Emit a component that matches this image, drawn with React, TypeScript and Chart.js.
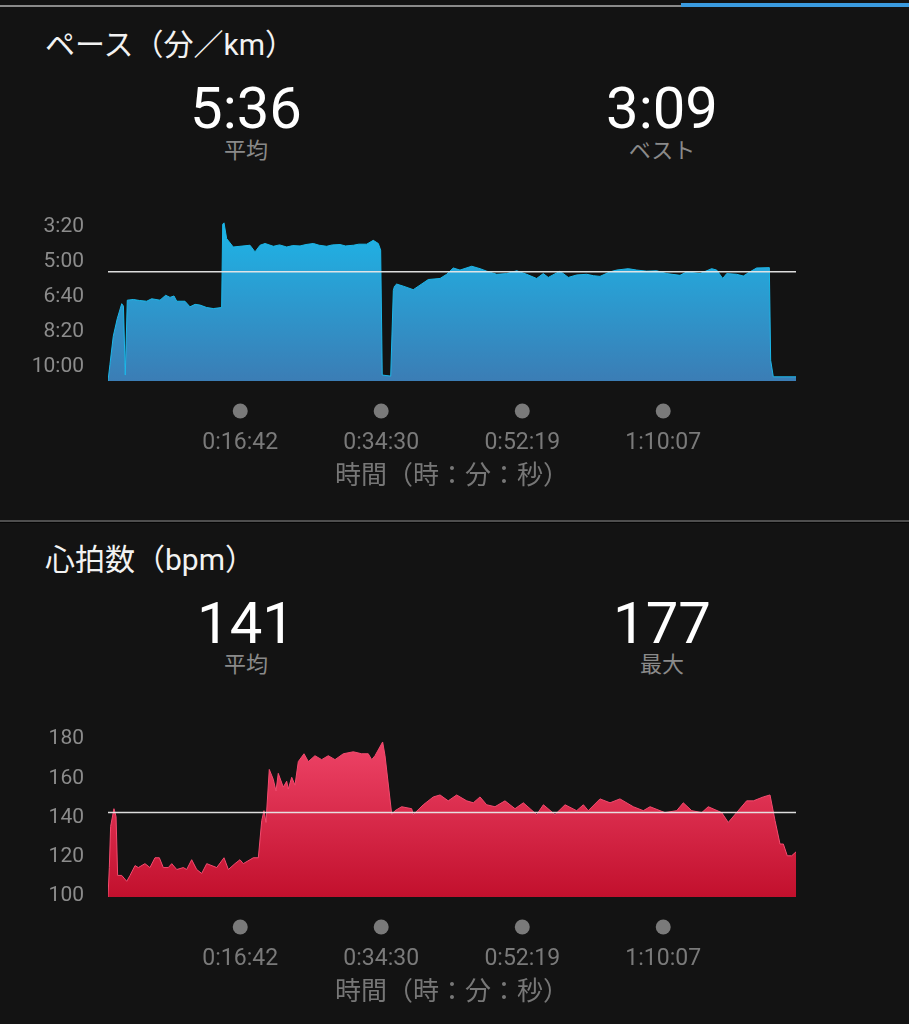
import React, { useEffect, useRef } from 'react';
import { Chart, registerables } from 'chart.js';

Chart.register(...registerables);

const FONT = "Roboto, 'Noto Sans CJK JP', sans-serif";

// ---- shared x axis (elapsed time, seconds) ----
const TIME_MAX = 5213;
const TIME_TICKS = [1002, 2070, 3139, 4207];

// ---- pace (seconds per km) ----
const PACE_TIME = [
  0, 15, 40, 70, 104, 117, 131, 146, 192, 240,
  293, 331, 394, 437, 470, 500, 521, 583, 621, 660,
  697, 748, 798, 861, 869, 879, 899, 949, 1000, 1076,
  1114, 1152, 1190, 1253, 1300, 1354, 1400, 1455, 1500, 1556,
  1600, 1657, 1700, 1758, 1800, 1859, 1900, 1960, 2010, 2048,
  2066, 2078, 2142, 2162, 2171, 2187, 2238, 2313, 2364, 2427,
  2516, 2566, 2616, 2667, 2756, 2819, 2869, 2945, 3021, 3097,
  3172, 3248, 3298, 3336, 3425, 3488, 3551, 3627, 3677, 3728,
  3804, 3854, 3942, 4006, 4082, 4157, 4233, 4334, 4385, 4486,
  4574, 4612, 4658, 4688, 4763, 4814, 4864, 4915, 5011, 5021,
  5041, 5213,
];
const PACE = [
  648, 600, 520, 470, 427, 434, 631, 417, 415, 418,
  420, 413, 417, 403, 409, 405, 420, 420, 436, 429,
  431, 438, 441, 438, 200, 196, 241, 265, 263, 260,
  279, 260, 255, 263, 259, 265, 261, 262, 258, 255,
  260, 263, 259, 258, 262, 260, 257, 257, 246, 255,
  274, 631, 634, 389, 377, 371, 377, 387, 374, 358,
  355, 343, 325, 331, 320, 327, 334, 343, 341, 333,
  343, 355, 341, 352, 334, 352, 345, 343, 347, 349,
  336, 331, 327, 331, 334, 333, 341, 346, 336, 341,
  327, 331, 355, 341, 343, 348, 336, 325, 324, 589,
  636, 636,
];
const PACE_TICKS = [200, 300, 400, 500, 600];
const PACE_MIN = 175;
const PACE_MAX = 648;
const PACE_AVG = 336;
const PACE_BEST = 189;

// ---- heart rate (bpm) ----
const HR_TIME = [
  0, 10, 20, 45, 61, 73, 104, 142, 167, 205,
  230, 280, 318, 356, 389, 419, 457, 483, 521, 571,
  596, 634, 672, 710, 748, 824, 879, 912, 962, 1000,
  1025, 1076, 1101, 1139, 1165, 1182, 1197, 1222, 1252, 1273,
  1290, 1328, 1354, 1366, 1392, 1417, 1442, 1485, 1518, 1568,
  1619, 1669, 1720, 1783, 1859, 1922, 1972, 1998, 2023, 2081,
  2099, 2150, 2175, 2225, 2301, 2313, 2389, 2465, 2516, 2578,
  2642, 2718, 2768, 2819, 2869, 2932, 3008, 3084, 3147, 3198,
  3248, 3299, 3387, 3463, 3551, 3602, 3639, 3728, 3804, 3879,
  3980, 4056, 4107, 4220, 4309, 4359, 4423, 4499, 4548, 4650,
  4700, 4763, 4839, 4890, 4965, 5016, 5054, 5092, 5117, 5147,
  5180, 5213,
];
const HR = [
  98, 113, 134, 143, 139, 109, 109, 106, 109, 114,
  113, 115, 113, 118, 118, 113, 113, 115, 112, 113,
  112, 117, 112, 110, 115, 113, 118, 112, 115, 117,
  115, 117, 118, 118, 137, 142, 136, 163, 158, 152,
  161, 154, 157, 153, 159, 155, 167, 171, 167, 170,
  168, 170, 168, 171, 172, 171, 171, 168, 170, 177,
  170, 140, 142, 144, 143, 140, 145, 149, 150, 147,
  150, 147, 146, 149, 145, 144, 147, 143, 146, 143,
  140, 145, 140, 145, 142, 145, 142, 148, 146, 148,
  144, 142, 144, 141, 142, 146, 142, 141, 144, 141,
  136, 141, 147, 147, 149, 150, 137, 125, 125, 119,
  119, 121,
];
const HR_TICKS = [100, 120, 140, 160, 180];
const HR_MIN = 98;
const HR_MAX_AXIS = 188.2;
const HR_AVG = 141;
const HR_PEAK = 177;

function fmtClock(v: number): string {
  const s = Math.round(v);
  const h = Math.floor(s / 3600);
  const m = Math.floor((s % 3600) / 60);
  const sec = s % 60;
  return `${h}:${String(m).padStart(2, '0')}:${String(sec).padStart(2, '0')}`;
}
function fmtPace(v: number): string {
  const s = Math.round(v);
  return `${Math.floor(s / 60)}:${String(s % 60).padStart(2, '0')}`;
}

type AreaProps = {
  times: number[];
  values: number[];
  yMin: number;
  yMax: number;
  yTicks: number[];
  reverse: boolean;
  avg: number;
  topColor: string;
  bottomColor: string;
  fmt: (v: number) => string;
  top: number;
  height: number;
  padTop: number;
};

function AreaChart(p: AreaProps) {
  const ref = useRef<HTMLCanvasElement | null>(null);
  useEffect(() => {
    if (!ref.current) return;
    const overlay = {
      id: 'overlay',
      afterDatasetsDraw(chart: any) {
        const { ctx, chartArea, scales } = chart;
        const y = scales.y.getPixelForValue(p.avg);
        ctx.save();
        ctx.strokeStyle = 'rgba(232,232,232,0.95)';
        ctx.lineWidth = 1.5;
        ctx.beginPath();
        ctx.moveTo(chartArea.left, y);
        ctx.lineTo(chartArea.right, y);
        ctx.stroke();
        ctx.fillStyle = '#7a7a7a';
        scales.x.ticks.forEach((t: any) => {
          const x = scales.x.getPixelForValue(t.value);
          ctx.beginPath();
          ctx.arc(x, chartArea.bottom + 30, 7.5, 0, Math.PI * 2);
          ctx.fill();
        });
        ctx.restore();
      },
    };
    const chart = new Chart(ref.current, {
      type: 'line',
      data: {
        datasets: [
          {
            data: p.times.map((t, i) => ({ x: t, y: p.values[i] })),
            fill: 'start',
            borderWidth: 1,
            borderColor: p.topColor,
            backgroundColor: (c: any) => {
              const { chart: ch } = c;
              const area = ch.chartArea;
              if (!area) return p.topColor;
              const g = ch.ctx.createLinearGradient(0, area.top, 0, area.bottom);
              g.addColorStop(0, p.topColor);
              g.addColorStop(1, p.bottomColor);
              return g;
            },
            pointRadius: 0,
            tension: 0,
          },
        ],
      },
      options: {
        responsive: false,
        animation: false,
        events: [],
        layout: { padding: { top: p.padTop, right: 113, left: 0, bottom: 0 } },
        plugins: { legend: { display: false }, tooltip: { enabled: false } },
        scales: {
          x: {
            type: 'linear',
            min: 0,
            max: TIME_MAX,
            grid: { display: false, drawTicks: false },
            border: { display: false },
            ticks: {
              padding: 48,
              color: '#7a7a7a',
              font: { size: 23, family: FONT },
              autoSkip: false,
              maxRotation: 0,
              callback: (v: any) => fmtClock(Number(v)),
            },
            afterBuildTicks: (s: any) => {
              s.ticks = TIME_TICKS.map((v) => ({ value: v }));
            },
            afterFit: (s: any) => {
              s.height = 119;
              s.paddingLeft = 0;
              s.paddingRight = 0;
            },
            title: {
              display: true,
              text: '時間（時：分：秒）',
              color: '#777777',
              font: { size: 26, family: FONT },
              padding: { top: 0, bottom: 7 },
            },
          },
          y: {
            type: 'linear',
            min: p.yMin,
            max: p.yMax,
            reverse: p.reverse,
            grid: { display: false, drawTicks: false },
            border: { display: false },
            ticks: {
              padding: 24,
              labelOffset: 3,
              color: '#8c8c8c',
              font: { size: 21, family: FONT },
              callback: (v: any) => p.fmt(Number(v)),
            },
            afterBuildTicks: (s: any) => {
              s.ticks = p.yTicks.map((v) => ({ value: v }));
            },
            afterFit: (s: any) => {
              s.width = 108;
              s.paddingTop = 0;
              s.paddingBottom = 0;
            },
          },
        },
      },
      plugins: [overlay],
    } as any);
    return () => chart.destroy();
  }, []);
  return (
    <canvas
      ref={ref}
      width={909}
      height={p.height}
      style={{ position: 'absolute', left: 0, top: p.top, width: 909, height: p.height }}
    />
  );
}

const abs = (x: number, y: number, extra: React.CSSProperties = {}): React.CSSProperties => ({
  position: 'absolute',
  left: x,
  top: y,
  lineHeight: 1,
  whiteSpace: 'nowrap',
  fontFamily: FONT,
  ...extra,
});

function Stat({ x, y, value, label, labelY }: { x: number; y: number; value: string; label: string; labelY: number }) {
  return (
    <>
      <div style={abs(x, y, { fontSize: 58, color: '#ffffff', transform: 'translate(-50%,-50%)' })}>{value}</div>
      <div style={abs(x, labelY, { fontSize: 22, color: '#8a8a8a', transform: 'translate(-50%,-50%)' })}>{label}</div>
    </>
  );
}

export default function App() {
  useEffect(() => {
    document.body.style.margin = '0';
    document.body.style.background = '#131313';
  }, []);
  return (
    <div
      style={{
        position: 'absolute',
        left: 0,
        top: 0,
        width: 909,
        height: 1024,
        background: '#131313',
        overflow: 'hidden',
      }}
    >
      <div style={{ position: 'absolute', left: 0, top: 5, width: 681, height: 2, background: '#8a8a8a' }} />
      <div style={{ position: 'absolute', left: 681, top: 3, width: 228, height: 4, background: '#3a9be0' }} />

      <div style={abs(45, 45, { fontSize: 30, color: '#f2f2f2', transform: 'translateY(-50%)' })}>ペース（分／km）</div>
      <Stat x={246} y={108} value={fmtPace(PACE_AVG)} label="平均" labelY={151} />
      <Stat x={662} y={108} value={fmtPace(PACE_BEST)} label="ベスト" labelY={151} />
      <AreaChart
        times={PACE_TIME}
        values={PACE}
        yMin={PACE_MIN}
        yMax={PACE_MAX}
        yTicks={PACE_TICKS}
        reverse={true}
        avg={PACE_AVG}
        topColor="#1cb8ea"
        bottomColor="#3b7db5"
        fmt={fmtPace}
        top={195}
        height={305}
        padTop={20.5}
      />

      <div style={{ position: 'absolute', left: 0, top: 520, width: 909, height: 2, background: '#4e4e4e' }} />
      <div style={{ position: 'absolute', left: 0, top: 522, width: 909, height: 1, background: '#050505' }} />

      <div style={abs(45, 560, { fontSize: 30, color: '#f2f2f2', transform: 'translateY(-50%)' })}>心拍数（bpm）</div>
      <Stat x={246} y={623} value={String(HR_AVG)} label="平均" labelY={665} />
      <Stat x={662} y={623} value={String(HR_PEAK)} label="最大" labelY={665} />
      <AreaChart
        times={HR_TIME}
        values={HR}
        yMin={HR_MIN}
        yMax={HR_MAX_AXIS}
        yTicks={HR_TICKS}
        reverse={false}
        avg={HR_AVG}
        topColor="#f44b6f"
        bottomColor="#c2102d"
        fmt={(v: number) => String(Math.round(v))}
        top={700}
        height={316}
        padTop={20}
      />
    </div>
  );
}
